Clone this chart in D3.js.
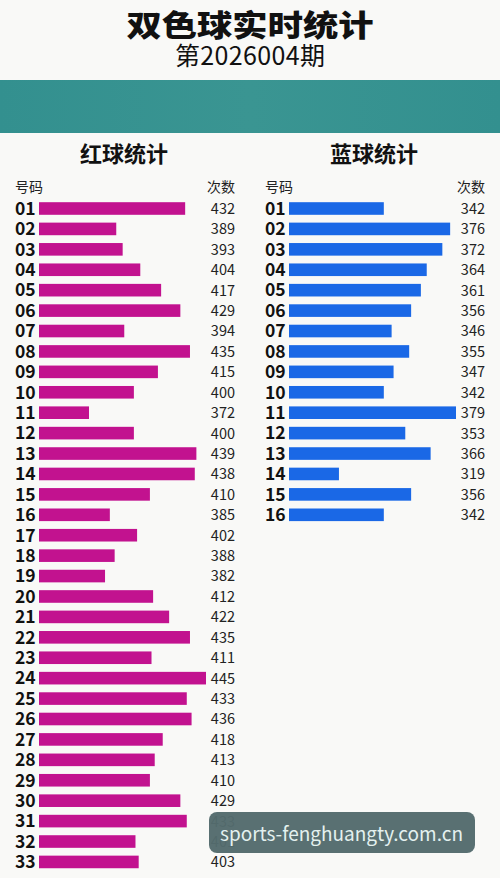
<!DOCTYPE html>
<html>
<head>
<meta charset="utf-8">
<script src="https://cdn.jsdelivr.net/npm/d3@7"></script>
<style>
  html, body { margin: 0; padding: 0; background: #f9f9f7; }
  svg { display: block; }
  text { font-family: "Noto Sans CJK SC", "Noto Sans", sans-serif; }
</style>
</head>
<body>
<svg id="chart" width="500" height="878"></svg>
<script>
// ---- data ----
const titleText = "双色球实时统计";
const issueText = "第2026004期";
const redTitle = "红球统计";
const blueTitle = "蓝球统计";
const colHeadNum = "号码";
const colHeadCount = "次数";
const redNumbers = ["01","02","03","04","05","06","07","08","09","10","11","12","13","14","15","16","17","18","19","20","21","22","23","24","25","26","27","28","29","30","31","32","33"];
const redCounts = [432,389,393,404,417,429,394,435,415,400,372,400,439,438,410,385,402,388,382,412,422,435,411,445,433,436,418,413,410,429,433,401,403];
const blueNumbers = ["01","02","03","04","05","06","07","08","09","10","11","12","13","14","15","16"];
const blueCounts = [342,376,372,364,361,356,346,355,347,342,379,353,366,319,356,342];
const watermark = "sports-fenghuangty.com.cn";

const svg = d3.select("#chart");
const W = 500, H = 878;

svg.append("rect").attr("width", W).attr("height", H).attr("fill", "#f9f9f7");

// title
svg.append("text").attr("x", 250).attr("y", 36).attr("text-anchor", "middle")
  .attr("font-size", 30).attr("font-weight", 900).attr("fill", "#111")
  .attr("textLength", 247).attr("lengthAdjust", "spacingAndGlyphs").text(titleText);
svg.append("text").attr("x", 250).attr("y", 65).attr("text-anchor", "middle")
  .attr("font-size", 25).attr("font-weight", 400).attr("fill", "#111")
  .attr("textLength", 150).text(issueText);

// teal band
const defs = svg.append("defs");
const g = defs.append("linearGradient").attr("id", "band").attr("x1", 0).attr("x2", 1);
g.append("stop").attr("offset", "0%").attr("stop-color", "#33908f");
g.append("stop").attr("offset", "50%").attr("stop-color", "#3a9592");
g.append("stop").attr("offset", "100%").attr("stop-color", "#33908f");
svg.append("rect").attr("x", 0).attr("y", 80).attr("width", W).attr("height", 53).attr("fill", "url(#band)");

function panel(opts) {
  const { numbers, counts, x0, barStart, barEnd, valueRight, domain, color, title } = opts;
  const gp = svg.append("g");
  gp.append("text").attr("x", x0 + 109).attr("y", 162).attr("text-anchor", "middle")
    .attr("font-size", 22).attr("font-weight", 700).attr("fill", "#111").text(title);
  gp.append("text").attr("x", x0).attr("y", 192).attr("font-size", 14)
    .attr("fill", "#222").text(colHeadNum);
  gp.append("text").attr("x", valueRight).attr("y", 192).attr("text-anchor", "end").attr("font-size", 14)
    .attr("fill", "#222").text(colHeadCount);

  const step = 20.42;
  const y = d3.scalePoint().domain(numbers).range([208.5, 208.5 + step * (numbers.length - 1)]);
  const x = d3.scaleLinear().domain(domain).range([barStart, barEnd]);
  const barH = 12.6;
  const rows = gp.selectAll("g.row").data(numbers.map((n, i) => ({ n, v: counts[i] })))
    .join("g").attr("class", "row");
  rows.append("rect")
    .attr("x", barStart).attr("y", d => y(d.n) - barH / 2)
    .attr("width", d => x(d.v) - barStart).attr("height", barH)
    .attr("fill", color);
  rows.append("text").attr("x", x0).attr("y", d => y(d.n) + 6.3)
    .attr("font-size", 17.5).attr("font-weight", 700).attr("fill", "#111")
    .attr("font-family", "'Noto Sans', 'Noto Sans CJK SC', sans-serif")
    .text(d => d.n);
  rows.append("text").attr("x", valueRight).attr("y", d => y(d.n) + 5.4)
    .attr("text-anchor", "end").attr("font-size", 14.5).attr("fill", "#222")
    .attr("font-family", "'Noto Sans', 'Noto Sans CJK SC', sans-serif")
    .text(d => d.v);
}

panel({ numbers: redNumbers, counts: redCounts, x0: 15, barStart: 39, barEnd: 206,
  valueRight: 235, domain: [340.8, 445], color: "#c2128f", title: redTitle });
panel({ numbers: blueNumbers, counts: blueCounts, x0: 265, barStart: 289, barEnd: 456,
  valueRight: 485, domain: [293.4, 379], color: "#1a68e6", title: blueTitle });

// watermark
svg.append("rect").attr("x", 209).attr("y", 812).attr("width", 266).attr("height", 41)
  .attr("rx", 8).attr("fill", "#546b6d").attr("fill-opacity", 0.97);
svg.append("text").attr("x", 220).attr("y", 841).attr("font-size", 19)
  .attr("font-family", "'Open Sans', 'Noto Sans', sans-serif")
  .attr("textLength", 243).attr("fill", "#e4f1ef").text(watermark);
</script>
</body>
</html>
